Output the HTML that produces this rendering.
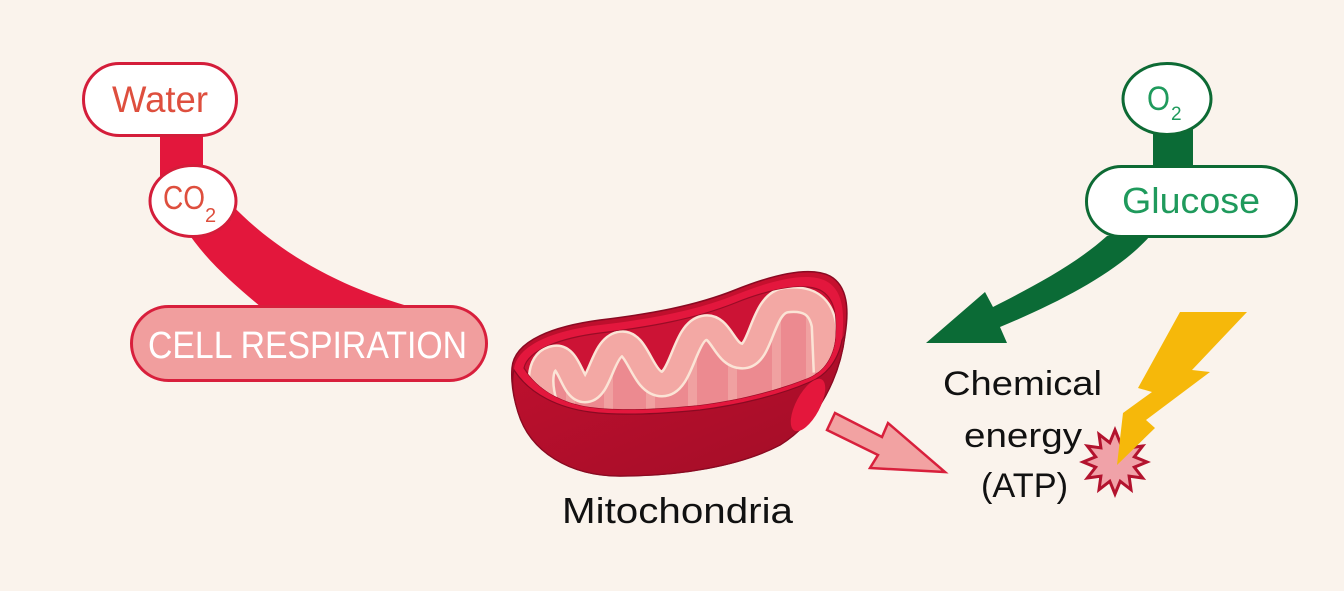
<!DOCTYPE html>
<html>
<head>
<meta charset="utf-8">
<style>
  html,body{margin:0;padding:0;background:#faf3ec;}
  svg{display:block;}
  text{font-family:"Liberation Sans", sans-serif;}
</style>
</head>
<body>
<svg width="1344" height="591" viewBox="0 0 1344 591" xmlns="http://www.w3.org/2000/svg">
  <defs>
    <linearGradient id="body" x1="0" y1="0" x2="0" y2="1">
      <stop offset="0" stop-color="#c8102f"/>
      <stop offset="1" stop-color="#9e0c26"/>
    </linearGradient>
    <linearGradient id="front" x1="0" y1="0" x2="1" y2="1">
      <stop offset="0" stop-color="#c0102f"/>
      <stop offset="1" stop-color="#a20d27"/>
    </linearGradient>
    <clipPath id="cav">
      <path d="M524,368 C528,350 560,338 600,333 C650,327 695,319 735,303 C772,288 805,283 820,290 C835,298 837,315 835,340 C832,362 820,373 808,378 C778,390 740,400 700,405 C660,409 620,411 590,407 C562,403 538,390 524,368 Z"/>
    </clipPath>
    <clipPath id="wall">
      <path d="M545,420 L545,400 C538,380 540,360 555,358 C570,356 572,390 585,390 C600,390 602,348 620,344 C638,340 642,384 662,384 C682,384 684,332 704,328 C722,324 724,358 744,356 C762,354 762,302 787,300 C808,298 820,305 824,325 L826,370 L840,420 Z"/>
    </clipPath>
  </defs>

  <rect width="1344" height="591" fill="#faf3ec"/>

  <!-- red connectors -->
  <rect x="160" y="120" width="43" height="60" fill="#e3173c"/>
  <path d="M232,205 C270,245 330,285 415,308 L262,308 C235,285 205,260 185,228 Z" fill="#e3173c"/>

  <!-- Water pill -->
  <rect x="83.5" y="63.5" width="153" height="72" rx="36" fill="#ffffff" stroke="#d41d3a" stroke-width="3"/>
  <text x="160" y="112" text-anchor="middle" font-size="37" fill="#de4f3e" textLength="96" lengthAdjust="spacingAndGlyphs">Water</text>

  <!-- CO2 -->
  <ellipse cx="193" cy="201" rx="43" ry="35.5" fill="#ffffff" stroke="#d41d3a" stroke-width="3"/>
  <text x="163" y="209" font-size="33" fill="#de4f3e" textLength="42" lengthAdjust="spacingAndGlyphs">CO</text>
  <text x="205" y="222" font-size="20" fill="#de4f3e">2</text>

  <!-- CELL RESPIRATION -->
  <rect x="131.5" y="306.5" width="355" height="74" rx="37" fill="#f19e9e" stroke="#d81f3c" stroke-width="3"/>
  <text x="148" y="358" font-size="38" fill="#ffffff" textLength="319" lengthAdjust="spacingAndGlyphs">CELL RESPIRATION</text>

  <!-- green connectors -->
  <rect x="1153" y="120" width="40" height="60" fill="#0b6b36"/>
  <path d="M926,343 L985,292 L993,307 C1030,288 1075,265 1107,236 L1150,236 C1120,270 1065,300 1000,327 L1007,343 Z" fill="#0b6b36"/>

  <!-- O2 -->
  <ellipse cx="1167" cy="99" rx="44" ry="35.5" fill="#ffffff" stroke="#0d6a34" stroke-width="3"/>
  <text x="1147" y="110" font-size="34" fill="#1f9a5c" textLength="23" lengthAdjust="spacingAndGlyphs">O</text>
  <text x="1171" y="120" font-size="19" fill="#1f9a5c">2</text>

  <!-- Glucose -->
  <rect x="1086.5" y="166.5" width="210" height="70" rx="35" fill="#ffffff" stroke="#0d6a34" stroke-width="3"/>
  <text x="1122" y="213" font-size="36" fill="#1f9a5c" textLength="138" lengthAdjust="spacingAndGlyphs">Glucose</text>

  <!-- Mitochondria -->
  <path d="M512,368 C514,340 555,326 600,320 C650,314 695,306 735,290 C775,274 810,266 830,276 C848,286 849,310 845,335 C840,375 820,420 780,445 C740,466 680,476 620,476 C570,476 530,452 518,412 C513,396 511,382 512,368 Z" fill="url(#body)" stroke="#8a0a22" stroke-width="1.5"/>
  <!-- rim -->
  <path d="M514,370 C516,345 555,330 600,325 C650,319 695,311 735,295 C775,279 808,272 826,281 C843,290 845,312 842,340 C838,365 825,378 810,382 C780,395 740,405 700,410 C660,414 620,416 590,412 C560,408 530,395 514,370 Z" fill="#e3173d"/>
  <!-- cavity -->
  <path d="M524,368 C528,350 560,338 600,333 C650,327 695,319 735,303 C772,288 805,283 820,290 C835,298 837,315 835,340 C832,362 820,373 808,378 C778,390 740,400 700,405 C660,409 620,411 590,407 C562,403 538,390 524,368 Z" fill="#cc1335" stroke="#9a0c26" stroke-width="1.2"/>
  <g clip-path="url(#cav)">
    <!-- back wall pink -->
    <g clip-path="url(#wall)">
      <rect x="515" y="280" width="335" height="150" fill="#ec8a90"/>
      <g fill="#f4b4b0" opacity="0.55">
        <rect x="566" y="330" width="9" height="100"/>
        <rect x="604" y="320" width="9" height="110"/>
        <rect x="646" y="320" width="9" height="110"/>
        <rect x="688" y="310" width="9" height="120"/>
        <rect x="728" y="300" width="9" height="130"/>
        <rect x="772" y="285" width="9" height="145"/>
        <rect x="806" y="285" width="9" height="145"/>
      </g>
    </g>
    <!-- ribbon -->
    <path d="M545,405 C538,380 540,360 555,358 C570,356 572,390 585,390 C600,390 602,348 620,344 C638,340 642,384 662,384 C682,384 684,332 704,328 C722,324 724,358 744,356 C762,354 762,302 787,300 C808,298 820,305 824,325 L826,372" fill="none" stroke="#fbe4d6" stroke-width="27" stroke-linejoin="round"/>
    <path d="M545,405 C538,380 540,360 555,358 C570,356 572,390 585,390 C600,390 602,348 620,344 C638,340 642,384 662,384 C682,384 684,332 704,328 C722,324 724,358 744,356 C762,354 762,302 787,300 C808,298 820,305 824,325 L826,372" fill="none" stroke="#f3a8a4" stroke-width="22" stroke-linejoin="round"/>
  </g>
  <!-- front face -->
  <path d="M514,370 C530,395 560,408 590,412 C620,416 660,414 700,410 C740,405 780,395 810,382 C825,376 838,362 842,340 L845,335 C840,375 820,420 780,445 C740,466 680,476 620,476 C570,476 530,452 518,412 C513,396 511,382 514,370 Z" fill="url(#front)" stroke="#8a0a22" stroke-width="1.2"/>
  <ellipse cx="808" cy="405" rx="12" ry="29" transform="rotate(28 808 405)" fill="#e4173c"/>

  <text x="562" y="523" font-size="36" fill="#111111" textLength="231" lengthAdjust="spacingAndGlyphs">Mitochondria</text>

  <!-- pink arrow -->
  <polygon points="835,413 882,437 888,423 945,472 870,468 878,455 827,430" fill="#f2a2a2" stroke="#d8203c" stroke-width="2.5" stroke-linejoin="miter"/>

  <!-- Chemical energy text -->
  <text x="943" y="395" font-size="34" fill="#111111" textLength="159" lengthAdjust="spacingAndGlyphs">Chemical</text>
  <text x="964" y="447" font-size="34" fill="#111111" textLength="118" lengthAdjust="spacingAndGlyphs">energy</text>
  <text x="981" y="497" font-size="34" fill="#111111" textLength="87" lengthAdjust="spacingAndGlyphs">(ATP)</text>

  <!-- starburst -->
  <polygon points="1115,430 1120.2,442.7 1131,434.3 1129.1,447.9 1142.7,446 1134.3,456.8 1147,462 1134.3,467.2 1142.7,478 1129.1,476.1 1131,489.7 1120.2,481.3 1115,494 1109.8,481.3 1099,489.7 1100.9,476.1 1087.3,478 1095.7,467.2 1083,462 1095.7,456.8 1087.3,446 1100.9,447.9 1099,434.3 1109.8,442.7" fill="#f0a2a8" stroke="#b3132e" stroke-width="3" stroke-linejoin="miter"/>

  <!-- lightning bolt -->
  <polygon points="1180,312 1247,312 1192,370 1210,372 1146,420 1155,428 1117,465 1123,413 1152,392 1138,388" fill="#f6b80a"/>
</svg>
</body>
</html>
